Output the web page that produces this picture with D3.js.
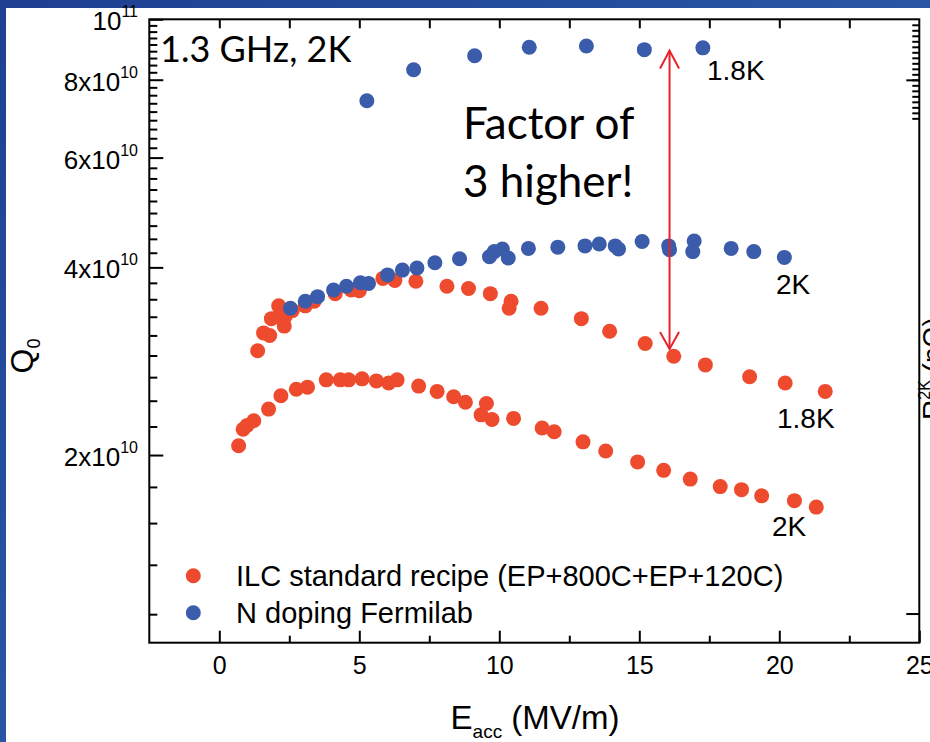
<!DOCTYPE html>
<html>
<head>
<meta charset="utf-8">
<script src="https://cdn.jsdelivr.net/npm/d3@7"></script>
<style>
  html, body { margin: 0; padding: 0; background: #fff; }
  svg { display: block; }
</style>
</head>
<body>
<svg id="chart" width="930" height="742"></svg>
<script>
// ---- Data: accelerating gradient E_acc (MV/m) and quality factor Q0 ----
// N doping (Fermilab), 1.8 K
const nDop18E = [5.27, 6.94, 9.12, 11.07, 13.11, 15.18, 17.27];
const nDop18Q = [7.40e10, 8.30e10, 8.74e10, 9.02e10, 9.06e10, 8.94e10, 9.00e10];

// N doping (Fermilab), 2 K
const nDop2E = [2.54, 3.07, 3.51, 4.08, 4.54, 5.04, 5.33, 6.01, 6.54, 7.06,
                7.70, 8.58, 9.65, 9.82, 10.11, 10.32, 11.04, 12.09, 13.06, 13.57,
                14.14, 14.26, 15.10, 16.05, 16.08, 16.96, 16.91, 18.28, 19.09, 20.18];
const nDop2Q = [3.44e10, 3.53e10, 3.59e10, 3.68e10, 3.73e10, 3.78e10, 3.77e10, 3.89e10, 3.96e10, 3.99e10,
                4.07e10, 4.13e10, 4.16e10, 4.24e10, 4.28e10, 4.14e10, 4.29e10, 4.31e10, 4.33e10, 4.36e10,
                4.33e10, 4.28e10, 4.40e10, 4.33e10, 4.27e10, 4.41e10, 4.24e10, 4.29e10, 4.24e10, 4.15e10];

// ILC standard recipe, 1.8 K
const ilc18E = [1.37, 1.58, 1.80, 1.86, 2.10, 2.12, 2.32, 2.36, 2.61, 3.07,
                3.39, 4.14, 4.71, 5.00, 5.84, 6.27, 7.02, 8.13, 8.90, 9.68,
                10.42, 10.35, 11.49, 12.93, 13.94, 15.21, 16.23, 17.36, 18.94, 20.21, 21.64];
const ilc18Q = [2.94e10, 3.14e10, 3.11e10, 3.31e10, 3.33e10, 3.47e10, 3.22e10, 3.34e10, 3.41e10, 3.47e10,
                3.53e10, 3.63e10, 3.68e10, 3.67e10, 3.84e10, 3.81e10, 3.80e10, 3.73e10, 3.70e10, 3.63e10,
                3.53e10, 3.44e10, 3.44e10, 3.31e10, 3.16e10, 3.02e10, 2.88e10, 2.79e10, 2.67e10, 2.61e10, 2.53e10];

// ILC standard recipe, 2 K
const ilc2E = [0.69, 0.85, 0.99, 1.23, 1.76, 2.20, 2.75, 3.15, 3.82, 4.32,
               4.62, 5.10, 5.61, 6.05, 6.35, 7.12, 7.78, 8.37, 8.79, 9.54,
               9.35, 9.74, 10.51, 11.53, 11.96, 12.99, 13.80, 14.94, 15.87, 16.82,
               17.89, 18.65, 19.37, 20.54, 21.32];
const ilc2Q = [2.07e10, 2.20e10, 2.23e10, 2.27e10, 2.37e10, 2.49e10, 2.55e10, 2.57e10, 2.64e10, 2.64e10,
               2.64e10, 2.65e10, 2.63e10, 2.61e10, 2.64e10, 2.58e10, 2.53e10, 2.48e10, 2.43e10, 2.42e10,
               2.32e10, 2.28e10, 2.29e10, 2.21e10, 2.18e10, 2.10e10, 2.03e10, 1.95e10, 1.89e10, 1.83e10,
               1.78e10, 1.76e10, 1.72e10, 1.69e10, 1.65e10];

// Axis ticks
const xMajor = [0, 5, 10, 15, 20, 25];
const xMinor = [2.5, 7.5, 12.5, 17.5, 22.5];
const yMajor = [2e10, 4e10, 6e10, 8e10, 1e11];
const yTickBase = ["2x10", "4x10", "6x10", "8x10", "10"];
const yTickExp  = ["10", "10", "10", "10", "11"];
const yMinorPerMajor = 8;           // minor ticks between labelled majors
const rMinor = d3.range(1, 19);     // R(2K) axis, nΩ
const rMajor = [11, 108];

// "Factor of 3" arrow between the 1.8 K curves
const arrowE = 16.08;
const arrowQ = [8.91e10, 2.96e10];

// Colours
const red = "#ee4a2e";
const blue = "#3a5caa";

// ---- Drawing ----
const svg = d3.select("#chart");
const defs = svg.append("defs");
const grad = defs.append("linearGradient").attr("id", "slideBg")
  .attr("x1", "0").attr("y1", "0").attr("x2", "1").attr("y2", "1");
grad.append("stop").attr("offset", "0").attr("stop-color", "#1f3f92");
grad.append("stop").attr("offset", "0.5").attr("stop-color", "#2856a4");
grad.append("stop").attr("offset", "1").attr("stop-color", "#1e3a8a");

svg.append("rect").attr("width", 930).attr("height", 742).attr("fill", "url(#slideBg)");
svg.append("rect").attr("x", 6).attr("y", 8).attr("width", 924).attr("height", 734).attr("fill", "#fff");

const x = d3.scaleLinear().domain([-2.5, 25]).range([149.3, 919.3]);
const y = d3.scaleLog().domain([1e10, 1e11]).range([642.7, 19.3]);
const rScale = d3.scaleLinear().domain([0, 113.3]).range([19.3, 642.7]);
const [xL, xR] = x.range();
const [yB, yT] = y.range();

const axisFont = "'Liberation Sans', Arial, Helvetica, sans-serif";
const slideFont = "Lato, 'Open Sans', sans-serif";

function styleAxis(g) {
  g.select(".domain").remove();
  g.selectAll(".tick line").attr("stroke", "#000").attr("stroke-width", 2);
  g.selectAll(".tick text").attr("fill", "#000")
    .attr("font-family", axisFont).attr("font-size", 25);
}

// Bottom axis
svg.append("g").attr("transform", `translate(0,${yB})`)
  .call(d3.axisBottom(x).tickValues(xMajor).tickSizeInner(-12).tickSizeOuter(0)
        .tickPadding(14).tickFormat(d3.format("d")))
  .call(styleAxis);
svg.append("g").attr("transform", `translate(0,${yB})`)
  .call(d3.axisBottom(x).tickValues(xMinor).tickSizeInner(-7).tickSizeOuter(0).tickFormat(""))
  .call(styleAxis);

// Top axis (mirror ticks)
svg.append("g").attr("transform", `translate(0,${yT})`)
  .call(d3.axisTop(x).tickValues(xMajor.filter(v => v < 25)).tickSizeInner(-9).tickSizeOuter(0).tickFormat(""))
  .call(styleAxis);
svg.append("g").attr("transform", `translate(0,${yT})`)
  .call(d3.axisTop(x).tickValues(xMinor).tickSizeInner(-9).tickSizeOuter(0).tickFormat(""))
  .call(styleAxis);

// Left axis
const yStep = (yMajor[1] - yMajor[0]) / (yMinorPerMajor + 1);
const yMinor = d3.range(1, 46)
  .filter(k => k % (yMinorPerMajor + 1) !== 0)
  .map(k => k * yStep)
  .filter(v => v >= 1e10 && v <= 1e11);

svg.append("g").attr("transform", `translate(${xL},0)`)
  .call(d3.axisLeft(y).tickValues(yMajor).tickSizeInner(-14).tickSizeOuter(0).tickFormat(""))
  .call(styleAxis);
svg.append("g").attr("transform", `translate(${xL},0)`)
  .call(d3.axisLeft(y).tickValues(yMinor).tickSizeInner(-8).tickSizeOuter(0).tickFormat(""))
  .call(styleAxis);

const yLab = svg.append("g").attr("font-family", axisFont).attr("fill", "#000");
yMajor.forEach((v, i) => {
  const t = yLab.append("text")
    .attr("x", 138).attr("y", y(v) + 11)
    .attr("text-anchor", "end").attr("font-size", 26);
  t.append("tspan").text(yTickBase[i]);
  t.append("tspan").attr("font-size", 16).attr("dy", -13).text(yTickExp[i]);
});

// Right axis (R 2K, nΩ)
svg.append("g").attr("transform", `translate(${xR},0)`)
  .call(d3.axisRight(rScale).tickValues(rMinor).tickSizeInner(-7).tickSizeOuter(0).tickFormat(""))
  .call(styleAxis);
svg.append("g").attr("transform", `translate(${xR},0)`)
  .call(d3.axisRight(rScale).tickValues(rMajor).tickSizeInner(-13).tickSizeOuter(0).tickFormat(""))
  .call(styleAxis);

// Frame
svg.append("rect")
  .attr("x", xL).attr("y", yT).attr("width", xR - xL).attr("height", yB - yT)
  .attr("fill", "none").attr("stroke", "#000").attr("stroke-width", 2);

// Axis titles
const xt = svg.append("text")
  .attr("x", 535).attr("y", 729).attr("text-anchor", "middle")
  .attr("font-family", axisFont).attr("font-size", 33).attr("fill", "#000");
xt.append("tspan").text("E");
xt.append("tspan").attr("font-size", 19).attr("dy", 9).text("acc");
xt.append("tspan").attr("dy", -9).text(" (MV/m)");

const yt = svg.append("text")
  .attr("transform", "translate(33,356) rotate(-90)")
  .attr("text-anchor", "middle")
  .attr("font-family", axisFont).attr("font-size", 32).attr("fill", "#000");
yt.append("tspan").text("Q");
yt.append("tspan").attr("font-size", 18).attr("dy", 7).text("0");

const rt = svg.append("text")
  .attr("transform", "translate(942,420) rotate(-90)")
  .attr("text-anchor", "start")
  .attr("font-family", axisFont).attr("font-size", 28).attr("fill", "#000");
rt.append("tspan").text("R");
rt.append("tspan").attr("font-size", 16).attr("dy", -12).text("2K");
rt.append("tspan").attr("dy", 12).text(" (nΩ)");

// Data points: red series below, blue on top
const series = [
  { e: ilc2E,   q: ilc2Q,   color: red },
  { e: ilc18E,  q: ilc18Q,  color: red },
  { e: nDop2E,  q: nDop2Q,  color: blue },
  { e: nDop18E, q: nDop18Q, color: blue }
];
series.forEach(s => {
  svg.append("g").selectAll("circle")
    .data(s.e.map((e, i) => [e, s.q[i]]))
    .join("circle")
    .attr("cx", d => x(d[0])).attr("cy", d => y(d[1]))
    .attr("r", 7.5).attr("fill", s.color);
});

// Double-headed arrow
const ax = x(arrowE), ay1 = y(arrowQ[0]), ay2 = y(arrowQ[1]);
const arrowG = svg.append("g").attr("stroke", "#e8222b").attr("stroke-width", 2).attr("fill", "none");
arrowG.append("line").attr("x1", ax).attr("x2", ax).attr("y1", ay1).attr("y2", ay2);
arrowG.append("path").attr("d", `M${ax - 9.5},${ay1 + 18} L${ax},${ay1} L${ax + 9.5},${ay1 + 18}`);
arrowG.append("path").attr("d", `M${ax - 9.5},${ay2 - 17} L${ax},${ay2} L${ax + 9.5},${ay2 - 17}`);

// Annotations
const ann = svg.append("g").attr("fill", "#000");
ann.append("text").attr("x", 160).attr("y", 62)
  .attr("font-family", slideFont).attr("font-size", 36).text("1.3 GHz, 2K");
ann.append("text").attr("x", 463).attr("y", 139)
  .attr("font-family", slideFont).attr("font-size", 44).text("Factor of");
ann.append("text").attr("x", 463).attr("y", 197)
  .attr("font-family", slideFont).attr("font-size", 44).text("3 higher!");

const tempLabels = [
  { t: "1.8K", x: 707, y: 80 },
  { t: "2K",   x: 776, y: 294 },
  { t: "1.8K", x: 777, y: 428 },
  { t: "2K",   x: 772, y: 536 }
];
ann.selectAll("text.temp").data(tempLabels).join("text")
  .attr("class", "temp")
  .attr("x", d => d.x).attr("y", d => d.y)
  .attr("font-family", axisFont).attr("font-size", 28)
  .text(d => d.t);

// Legend
const legend = [
  { label: "ILC standard recipe (EP+800C+EP+120C)", color: red },
  { label: "N doping Fermilab", color: blue }
];
const lg = svg.append("g").attr("font-family", axisFont).attr("font-size", 29);
legend.forEach((d, i) => {
  const cy = 575.7 + i * 37;
  lg.append("circle").attr("cx", 193.3).attr("cy", cy).attr("r", 7.5).attr("fill", d.color);
  lg.append("text").attr("x", 236).attr("y", cy + 10.5).attr("fill", "#000").text(d.label);
});
</script>
</body>
</html>
